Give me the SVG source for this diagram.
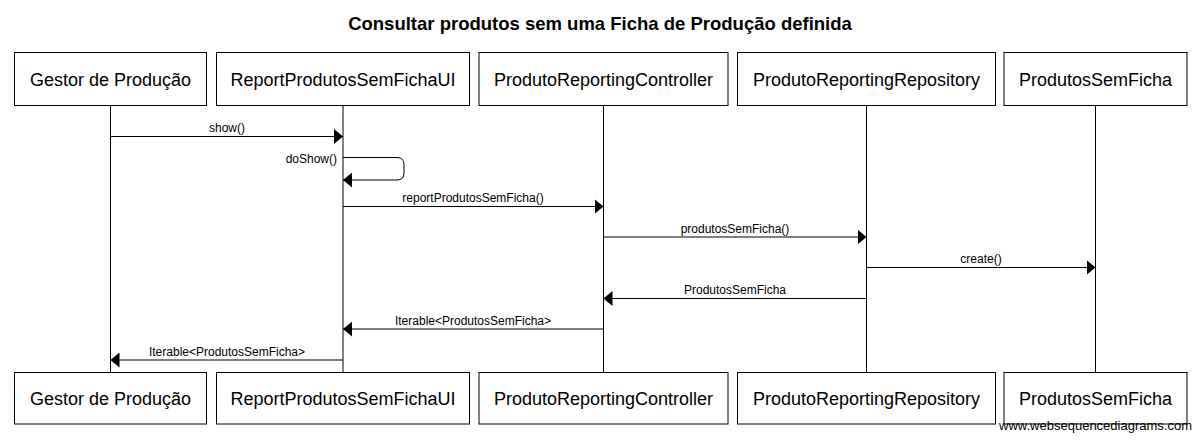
<svg xmlns="http://www.w3.org/2000/svg" width="1200" height="446" viewBox="0 0 1200 446">
<style>
.box{fill:#fff;stroke:#000;stroke-width:1}
.life{stroke:#000;stroke-width:1;fill:none}
.name{font-family:"Liberation Sans",Arial,sans-serif;font-size:18px;fill:#000;text-anchor:middle}
.msg{stroke:#000;stroke-width:1;fill:none}
.lbl{font-family:"Liberation Sans",Arial,sans-serif;font-size:12px;fill:#000;text-anchor:middle}
.title{font-family:"Liberation Sans",Arial,sans-serif;font-size:18.5px;font-weight:bold;fill:#000;text-anchor:middle}
.wm{font-family:"Liberation Sans",Arial,sans-serif;font-size:13px;fill:#000;text-anchor:end}
</style>
<defs>
<marker id="ah" markerWidth="9" markerHeight="15" refX="9" refY="7.5" orient="auto" markerUnits="userSpaceOnUse">
<path d="M0,0 L9,7.5 L0,15 Z" fill="#000"/>
</marker>
</defs>
<rect width="1200" height="446" fill="#fff"/>
<text class="title" x="600" y="30">Consultar produtos sem uma Ficha de Produção definida</text>

<g id="gestor">
<line class="life" x1="110.5" y1="105.5" x2="110.5" y2="372.5"/>
<rect class="box" x="14.5" y="52.5" width="192" height="53"/>
<text class="name" x="110.5" y="85.5">Gestor de Produção</text>
<rect class="box" x="14.5" y="372.5" width="192" height="51.5"/>
<text class="name" x="110.5" y="405">Gestor de Produção</text>
</g>
<g id="ui">
<line class="life" x1="343" y1="105.5" x2="343" y2="372.5"/>
<rect class="box" x="216.5" y="52.5" width="253" height="53"/>
<text class="name" x="343" y="85.5">ReportProdutosSemFichaUI</text>
<rect class="box" x="216.5" y="372.5" width="253" height="51.5"/>
<text class="name" x="343" y="405">ReportProdutosSemFichaUI</text>
</g>
<g id="controller">
<line class="life" x1="603.5" y1="105.5" x2="603.5" y2="372.5"/>
<rect class="box" x="479" y="52.5" width="249" height="53"/>
<text class="name" x="603.5" y="85.5">ProdutoReportingController</text>
<rect class="box" x="479" y="372.5" width="249" height="51.5"/>
<text class="name" x="603.5" y="405">ProdutoReportingController</text>
</g>
<g id="repository">
<line class="life" x1="866.5" y1="105.5" x2="866.5" y2="372.5"/>
<rect class="box" x="737.5" y="52.5" width="258" height="53"/>
<text class="name" x="866.5" y="85.5">ProdutoReportingRepository</text>
<rect class="box" x="737.5" y="372.5" width="258" height="51.5"/>
<text class="name" x="866.5" y="405">ProdutoReportingRepository</text>
</g>
<g id="produtosSemFicha">
<line class="life" x1="1095.5" y1="105.5" x2="1095.5" y2="372.5"/>
<rect class="box" x="1004" y="52.5" width="183" height="53"/>
<text class="name" x="1095.5" y="85.5">ProdutosSemFicha</text>
<rect class="box" x="1004" y="372.5" width="183" height="51.5"/>
<text class="name" x="1095.5" y="405">ProdutosSemFicha</text>
</g>

<g id="connectors">
<line class="msg" x1="110.5" y1="136.5" x2="343" y2="136.5" marker-end="url(#ah)"/>
<text class="lbl" x="227" y="132">show()</text>

<path class="msg" d="M343,157.5 H397 Q404,157.5 404,164.5 V173 Q404,180 397,180 H343" marker-end="url(#ah)"/>
<text class="lbl" x="337" y="163" style="text-anchor:end">doShow()</text>

<line class="msg" x1="343" y1="206.5" x2="603.5" y2="206.5" marker-end="url(#ah)"/>
<text class="lbl" x="473" y="202">reportProdutosSemFicha()</text>

<line class="msg" x1="603.5" y1="237" x2="866.5" y2="237" marker-end="url(#ah)"/>
<text class="lbl" x="735" y="232.5">produtosSemFicha()</text>

<line class="msg" x1="866.5" y1="267.5" x2="1095.5" y2="267.5" marker-end="url(#ah)"/>
<text class="lbl" x="981" y="263">create()</text>

<line class="msg" x1="866.5" y1="298.5" x2="603.5" y2="298.5" marker-end="url(#ah)"/>
<text class="lbl" x="735" y="294">ProdutosSemFicha</text>

<line class="msg" x1="603.5" y1="329" x2="343" y2="329" marker-end="url(#ah)"/>
<text class="lbl" x="473" y="324.5">Iterable&lt;ProdutosSemFicha&gt;</text>

<line class="msg" x1="343" y1="360" x2="110.5" y2="360" marker-end="url(#ah)"/>
<text class="lbl" x="227" y="355.5">Iterable&lt;ProdutosSemFicha&gt;</text>
</g>

<text class="wm" x="1192" y="429.5">www.websequencediagrams.com</text>
</svg>
